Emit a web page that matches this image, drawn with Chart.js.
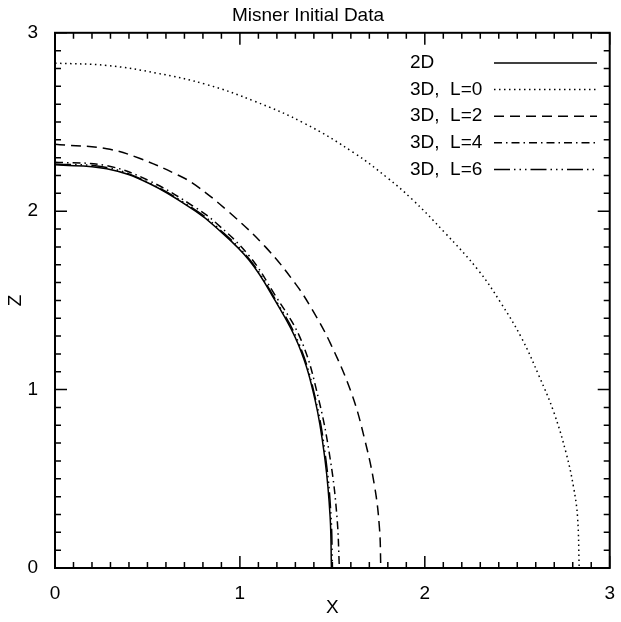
<!DOCTYPE html>
<html>
<head>
<meta charset="utf-8">
<script src="https://cdn.jsdelivr.net/npm/chart.js@4"></script>
<style>
  html, body { margin: 0; padding: 0; background: #fff; }
</style>
</head>
<body>
<canvas id="misnerChart" width="621" height="622"></canvas>
<script>
// Misner initial data: apparent horizon shapes, 2D vs 3D (L = 0, 2, 4, 6)
const seriesNames = ['2D', '3D,  L=0', '3D,  L=2', '3D,  L=4', '3D,  L=6'];

const x2D = [0, 0.28, 0.51, 0.76, 0.87, 1.05, 1.19, 1.317, 1.407, 1.461, 1.488, 1.495];
const z2D = [2.26, 2.238, 2.155, 2.0, 1.91, 1.725, 1.50, 1.25, 0.94, 0.60, 0.285, 0];

const xL0 = [0, 0.28, 0.55, 0.82, 1.08, 1.35, 1.62, 1.80, 1.93, 2.106, 2.29, 2.41, 2.523, 2.617, 2.697, 2.765, 2.805, 2.826, 2.835];
const zL0 = [2.83, 2.817, 2.774, 2.71, 2.616, 2.492, 2.325, 2.185, 2.068, 1.882, 1.668, 1.488, 1.29, 1.078, 0.875, 0.641, 0.45, 0.285, 0];

const xL2 = [0, 0.28, 0.46, 0.67, 0.76, 0.94, 1.138, 1.30, 1.39, 1.49, 1.604, 1.676, 1.729, 1.755, 1.762];
const zL2 = [2.375, 2.35, 2.295, 2.20, 2.146, 1.996, 1.80, 1.594, 1.45, 1.258, 0.978, 0.716, 0.454, 0.22, 0];

const xL4 = [0, 0.28, 0.51, 0.76, 0.87, 1.05, 1.19, 1.33, 1.425, 1.49, 1.525, 1.538];
const zL4 = [2.275, 2.255, 2.17, 2.02, 1.935, 1.75, 1.53, 1.28, 0.95, 0.60, 0.285, 0];

const xL6 = [0, 0.28, 0.51, 0.76, 0.87, 1.05, 1.19, 1.32, 1.41, 1.466, 1.493, 1.50];
const zL6 = [2.265, 2.245, 2.158, 2.006, 1.917, 1.732, 1.508, 1.256, 0.944, 0.60, 0.285, 0];

const axisTicks = [0, 1, 2, 3];

const dashes = [[], [1.5, 3.5], [10, 6], [8, 4, 1.5, 4], [16, 4, 1.5, 4, 1.5, 4, 1.5, 4]];

function toPoints(xs, zs) {
  return xs.map((x, i) => ({ x: x, y: zs[i] }));
}

const curves = [[x2D, z2D], [xL0, zL0], [xL2, zL2], [xL4, zL4], [xL6, zL6]];

Chart.defaults.font.family = '"Liberation Sans", Arial, sans-serif';
Chart.defaults.font.size = 19;
Chart.defaults.color = '#000';

// IDL style box with inward ticks on all four sides
const boxTicks = {
  id: 'boxTicks',
  afterDraw(chart) {
    const { ctx, chartArea: a, scales } = chart;
    ctx.save();
    ctx.strokeStyle = '#000';
    ctx.lineWidth = 1.5;
    ctx.beginPath();
    for (let i = 0; i <= 30; i++) {
      const len = i % 10 === 0 ? 12 : 6;
      const px = scales.x.getPixelForValue(i / 10);
      ctx.moveTo(px, a.bottom); ctx.lineTo(px, a.bottom - len);
      ctx.moveTo(px, a.top); ctx.lineTo(px, a.top + len);
      const py = scales.y.getPixelForValue(i / 10);
      ctx.moveTo(a.left, py); ctx.lineTo(a.left + len, py);
      ctx.moveTo(a.right, py); ctx.lineTo(a.right - len, py);
    }
    ctx.stroke();
    ctx.lineWidth = 2;
    ctx.strokeRect(a.left, a.top, a.right - a.left, a.bottom - a.top);
    ctx.restore();
  }
};

// legend: label on the left, line sample on the right
const sideLegend = {
  id: 'sideLegend',
  afterDraw(chart) {
    const ctx = chart.ctx;
    ctx.save();
    ctx.font = '19px "Liberation Sans", Arial, sans-serif';
    ctx.fillStyle = '#000';
    ctx.textBaseline = 'middle';
    chart.data.datasets.forEach((ds, i) => {
      const y = 63 + i * 26.6;
      ctx.fillText(ds.label, 410, y);
      ctx.strokeStyle = '#000';
      ctx.lineWidth = 1.5;
      ctx.setLineDash(ds.borderDash);
      ctx.beginPath();
      ctx.moveTo(494, y);
      ctx.lineTo(597, y);
      ctx.stroke();
    });
    ctx.restore();
  }
};

new Chart(document.getElementById('misnerChart'), {
  type: 'line',
  data: {
    datasets: curves.map((c, i) => ({
      label: seriesNames[i],
      data: toPoints(c[0], c[1]),
      borderColor: '#000',
      borderWidth: 1.5,
      borderDash: dashes[i],
      pointRadius: 0,
      fill: false,
      tension: 0.4
    }))
  },
  options: {
    responsive: false,
    animation: false,
    layout: { padding: { right: 5 } },
    plugins: {
      legend: { display: false },
      tooltip: { enabled: false },
      title: {
        display: true,
        text: 'Misner Initial Data',
        font: { size: 19, weight: 'normal' },
        padding: { top: 4, bottom: 6 }
      }
    },
    scales: {
      x: {
        type: 'linear',
        min: 0,
        max: 3,
        afterBuildTicks: s => { s.ticks = axisTicks.map(v => ({ value: v })); },
        afterFit: s => { s.height = 54; },
        ticks: { padding: 6, maxRotation: 0 },
        grid: { display: false },
        border: { display: false },
        title: { display: true, text: 'X', padding: { top: 0, bottom: 3 } }
      },
      y: {
        type: 'linear',
        min: 0,
        max: 3,
        afterBuildTicks: s => { s.ticks = axisTicks.map(v => ({ value: v })); },
        afterFit: s => { s.width = 55; },
        ticks: { padding: 9 },
        grid: { display: false },
        border: { display: false },
        title: { display: true, text: 'Z', padding: { top: 4, bottom: 0 } }
      }
    }
  },
  plugins: [boxTicks, sideLegend]
});
</script>
</body>
</html>
